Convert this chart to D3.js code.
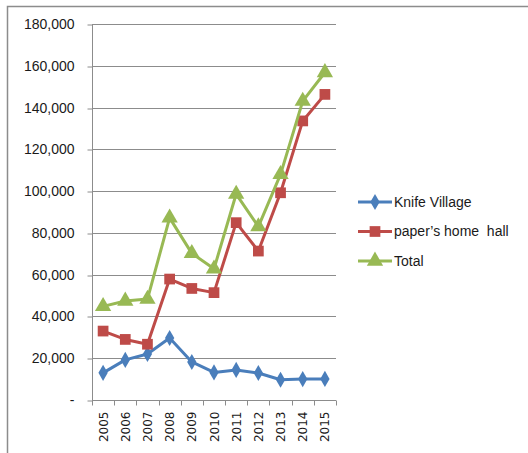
<!DOCTYPE html>
<html>
<head>
<meta charset="utf-8">
<script src="https://cdn.jsdelivr.net/npm/d3@7"></script>
<style>
  html, body { margin: 0; padding: 0; background: #fff; }
  svg { display: block; }
</style>
</head>
<body>
<div id="chart"></div>
<script>
const width = 528, height = 453;

const years = ["2005","2006","2007","2008","2009","2010","2011","2012","2013","2014","2015"];
const knife = [13000, 19200, 22000, 29700, 18200, 13200, 14400, 12900, 9700, 10000, 10100];
const paper = [33000, 29000, 26700, 57900, 53400, 51400, 84900, 71300, 99200, 133600, 146300];
const total = [44800, 47400, 48300, 87200, 70200, 62800, 98600, 83000, 108000, 143100, 156800];
const yTicks = [0, 20000, 40000, 60000, 80000, 100000, 120000, 140000, 160000, 180000];
const seriesNames = ["Knife Village", "paper\u2019s home  hall", "Total"];

const series = [
  {name: seriesNames[0], values: knife, color: "#4a7ebb", marker: d3.symbolDiamond, size: 75},
  {name: seriesNames[1], values: paper, color: "#be4b48", marker: d3.symbolSquare, size: 115},
  {name: seriesNames[2], values: total, color: "#98b954", marker: d3.symbolTriangle, size: 115}
];

const svg = d3.select("#chart").append("svg")
    .attr("width", width)
    .attr("height", height);

// frame (only top and left edge visible)
svg.append("path")
    .attr("d", `M7.5,${height} V6.5 H${width}`)
    .attr("fill", "none")
    .attr("stroke", "#8c8c8c")
    .attr("stroke-width", 1.5);

const x = d3.scaleBand().domain(years).range([92, 336]);
const y = d3.scaleLinear().domain([0, 180000]).range([400, 24]);

const fmt = v => v === 0 ? "-" : d3.format(",")(v);

// gridlines
svg.append("g")
  .selectAll("line")
  .data(yTicks.filter(d => d > 0))
  .join("line")
    .attr("x1", 92).attr("x2", 336)
    .attr("y1", d => Math.round(y(d)) + 0.5)
    .attr("y2", d => Math.round(y(d)) + 0.5)
    .attr("stroke", "#8c8c8c");

// y axis
const yAxis = svg.append("g")
    .attr("transform", "translate(92.5,0.5)")
    .call(d3.axisLeft(y).tickValues(yTicks).tickFormat(fmt).tickSize(5).tickPadding(13));
yAxis.select(".domain").attr("stroke", "#8c8c8c").attr("d", `M0,${y(180000)}V${y(0)}`);
yAxis.selectAll(".tick line").attr("stroke", "#8c8c8c").attr("transform", d => `translate(0,${Math.round(y(d)) - y(d)})`);
yAxis.selectAll(".tick text")
    .attr("font-family", "Liberation Sans, Arial, sans-serif")
    .attr("font-size", 14)
    .attr("fill", "#1a1a1a")
    .attr("transform", d => `translate(0,${Math.round(y(d)) - y(d)})`);

// x axis
const xAxis = svg.append("g").attr("transform", "translate(0,400.5)");
xAxis.append("line")
    .attr("x1", 92).attr("x2", 336)
    .attr("stroke", "#8c8c8c");
xAxis.selectAll("line.tk")
  .data(years.concat(["end"]))
  .join("line")
    .attr("class", "tk")
    .attr("x1", (d, i) => Math.round(92 + i * x.bandwidth()) + 0.5)
    .attr("x2", (d, i) => Math.round(92 + i * x.bandwidth()) + 0.5)
    .attr("y1", 0).attr("y2", 5)
    .attr("stroke", "#8c8c8c");
xAxis.selectAll("text")
  .data(years)
  .join("text")
    .attr("transform", d => `translate(${x(d) + x.bandwidth() / 2 + 4.5},11) rotate(-90)`)
    .attr("text-anchor", "end")
    .attr("font-family", "DejaVu Sans, sans-serif")
    .attr("font-size", 12)
    .attr("fill", "#1a1a1a")
    .text(d => d);

// lines + markers
const line = d3.line()
    .x((d, i) => x(years[i]) + x.bandwidth() / 2)
    .y(d => y(d));

series.forEach(s => {
  svg.append("path")
      .attr("d", line(s.values))
      .attr("fill", "none")
      .attr("stroke", s.color)
      .attr("stroke-width", 3)
      .attr("stroke-linejoin", "round");
  svg.append("g")
    .selectAll("path")
    .data(s.values)
    .join("path")
      .attr("transform", (d, i) => `translate(${x(years[i]) + x.bandwidth() / 2},${y(d)})`)
      .attr("d", d3.symbol().type(s.marker).size(s.size))
      .attr("fill", s.color);
});

// legend
const legend = svg.append("g").attr("transform", "translate(358,0)");
series.forEach((s, i) => {
  const ly = 202 + i * 29.5;
  const g = legend.append("g").attr("transform", `translate(0,${ly})`);
  g.append("line")
      .attr("x1", 0).attr("x2", 34)
      .attr("stroke", s.color).attr("stroke-width", 3);
  g.append("path")
      .attr("transform", "translate(17,0)")
      .attr("d", d3.symbol().type(s.marker).size(s.size))
      .attr("fill", s.color);
  g.append("text")
      .attr("x", 36)
      .attr("dy", "0.35em")
      .attr("font-family", "Liberation Sans, Arial, sans-serif")
      .attr("font-size", 14)
      .attr("fill", "#1a1a1a")
      .attr("xml:space", "preserve")
      .style("white-space", "pre")
      .text(s.name);
});
</script>
</body>
</html>
